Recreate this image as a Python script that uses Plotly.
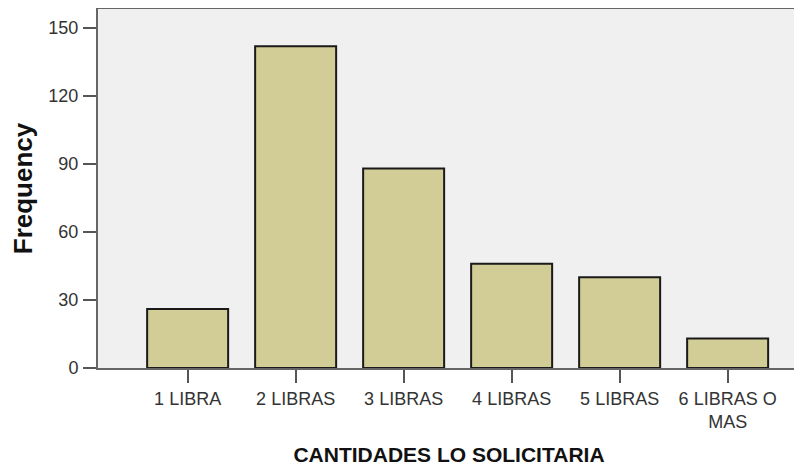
import plotly.graph_objects as go

categories = ["1 LIBRA", "2 LIBRAS", "3 LIBRAS", "4 LIBRAS", "5 LIBRAS", "6 LIBRAS O<br>MAS"]
frequency = [26, 142, 88, 46, 40, 13]
y_ticks = [0, 30, 60, 90, 120, 150]

fig = go.Figure(go.Bar(
    x=categories,
    y=frequency,
    width=0.75,
    marker=dict(color="#d2cd96", line=dict(color="#1a1a1a", width=2)),
))

# the page body adds an 8px margin, so the figure is sized to fit inside the window
fig.update_layout(
    width=794, height=461,
    margin=dict(l=90, r=2, t=1, b=101),
    paper_bgcolor="white",
    plot_bgcolor="#f0f0f0",
    font=dict(family="Liberation Sans, Arial, sans-serif", size=18, color="#333333"),
    showlegend=False,
)
fig.update_xaxes(
    automargin=False,
    range=[-0.83, 5.67],
    showline=True, linecolor="#666666", linewidth=2, mirror=True,
    ticks="outside", ticklen=13, tickcolor="#555555", tickwidth=2,
    showgrid=False,
    title=dict(text="<b>CANTIDADES LO SOLICITARIA</b>", font=dict(size=21, color="#111111"), standoff=16),
)
fig.update_yaxes(
    automargin=False,
    range=[0, 158.4],
    tickvals=y_ticks,
    ticklabelstandoff=1,
    showline=True, linecolor="#666666", linewidth=2, mirror=True,
    ticks="outside", ticklen=13, tickcolor="#555555", tickwidth=2,
    showgrid=False, zeroline=False,
    title=dict(text="<b>Frequency</b>", font=dict(size=26, color="#111111"), standoff=16),
)

fig.write_html("out.html")
